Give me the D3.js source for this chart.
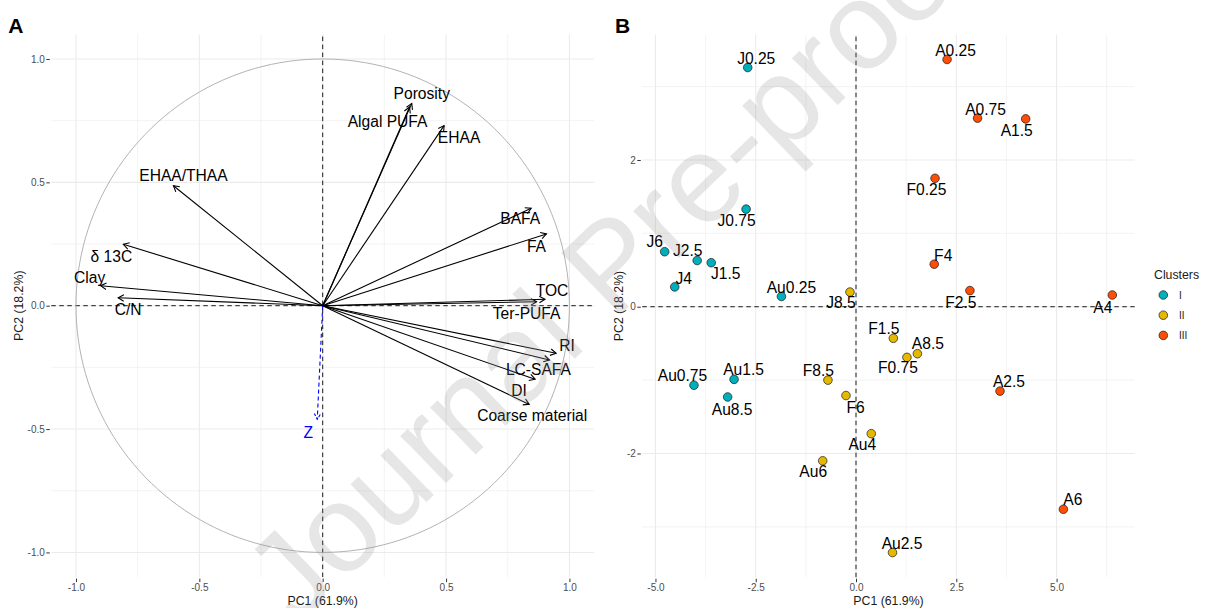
<!DOCTYPE html>
<html>
<head>
<meta charset="utf-8">
<script src="https://cdn.jsdelivr.net/npm/d3@7/dist/d3.min.js"></script>
<style>
  html, body { margin: 0; padding: 0; background: #ffffff; }
  svg { display: block; }
  text { font-family: "Liberation Sans", Arial, Helvetica, sans-serif; }
</style>
</head>
<body>
<svg id="chart" width="1205" height="608"></svg>
<script>
// ---------- Panel A: variable loadings on PC1 / PC2 ----------
const varNames = ["Porosity", "Algal PUFA", "EHAA", "EHAA/THAA", "BAFA", "FA", "δ 13C", "Clay", "C/N",
                  "TOC", "Ter-PUFA", "RI", "LC-SAFA", "DI", "Coarse material"];
const varPC1 = [0.361, 0.352, 0.492, -0.605, 0.845, 0.907, -0.808, -0.900, -0.829,
                0.901, 0.867, 0.946, 0.919, 0.861, 0.837];
const varPC2 = [0.820, 0.805, 0.730, 0.486, 0.395, 0.291, 0.249, 0.081, 0.032,
                0.026, 0.016, -0.193, -0.220, -0.298, -0.400];
// supplementary variable
const suppNames = ["Z"];
const suppPC1 = [-0.022];
const suppPC2 = [-0.460];

// ---------- Panel B: individual samples ----------
const sampleNames = ["J0.25", "A0.25", "A0.75", "A1.5", "F0.25", "J0.75", "J6", "J2.5", "J1.5", "F4",
                     "J4", "Au0.25", "J8.5", "F2.5", "A4", "F1.5", "A8.5", "F0.75", "Au0.75", "Au1.5",
                     "Au8.5", "F8.5", "F6", "A2.5", "Au4", "Au6", "A6", "Au2.5"];
const samplePC1 = [-2.70, 2.27, 3.03, 4.23, 1.97, -2.74, -4.77, -3.96, -3.61, 1.95,
                   -4.52, -1.86, -0.15, 2.84, 6.39, 0.93, 1.53, 1.27, -4.04, -3.04,
                   -3.20, -0.70, -0.25, 3.59, 0.38, -0.83, 5.17, 0.91];
const samplePC2 = [3.26, 3.37, 2.57, 2.56, 1.75, 1.33, 0.75, 0.63, 0.60, 0.58,
                   0.27, 0.14, 0.20, 0.22, 0.16, -0.43, -0.64, -0.69, -1.07, -0.99,
                   -1.23, -1.00, -1.21, -1.15, -1.73, -2.10, -2.76, -3.35];
const sampleCluster = ["I", "III", "III", "III", "III", "I", "I", "I", "I", "III",
                       "I", "I", "II", "III", "III", "II", "II", "II", "I", "I",
                       "I", "II", "II", "III", "II", "II", "III", "II"];
const clusterLevels = ["I", "II", "III"];
const clusterColors = ["#00AFBB", "#E7B800", "#FC4E07"];

// ---------- tick labels ----------
const ticksA = [-1.0, -0.5, 0.0, 0.5, 1.0];
const ticksBx = [-5.0, -2.5, 0.0, 2.5, 5.0];
const ticksBy = [-2, 0, 2];
const titleX = "PC1 (61.9%)";
const titleY = "PC2 (18.2%)";

// ---------- layout: label nudges (px) relative to arrow tip / point ----------
const varLabelNudge = {
  "Porosity": [10, -10], "Algal PUFA": [-22, 14], "EHAA": [15, 12], "EHAA/THAA": [10, -10],
  "BAFA": [-11, 10], "FA": [-10, 12], "δ 13C": [-12, 12], "Clay": [-11, -8], "C/N": [10, 12],
  "TOC": [7, -9], "Ter-PUFA": [-10, 12], "RI": [11, -8], "LC-SAFA": [-11, 9], "DI": [-16, 11],
  "Coarse material": [3, 11], "Z": [-9, 13]
};
const sampleLabelNudge = {
  "J0.25": [8.5, -9], "A0.25": [8.5, -9], "A0.75": [8, -9], "A1.5": [-9, 11], "F0.25": [-8.5, 11],
  "J0.75": [-9.5, 11], "J6": [-10, -10], "J2.5": [-9.5, -10], "J1.5": [14.5, 11], "F4": [9, -9],
  "J4": [9, -9], "Au0.25": [10, -9.5], "J8.5": [-9, 10.5], "F2.5": [-9, 11.5], "A4": [-9.5, 12],
  "F1.5": [-9.5, -10], "A8.5": [10.5, -10], "F0.75": [-9, 10.5], "Au0.75": [-11.5, -9.5],
  "Au1.5": [9.5, -10], "Au8.5": [4.5, 12], "F8.5": [-9.5, -10], "F6": [9.5, 11.5], "A2.5": [9, -10],
  "Au4": [-9, 10.5], "Au6": [-9.5, 11], "A6": [9.5, -9.5], "Au2.5": [9.5, -9.5]
};

const svg = d3.select("#chart");
svg.append("rect").attr("width", 1205).attr("height", 608).attr("fill", "#ffffff");

const gridCol = "#ebebeb";
const fmt1 = v => d3.format(".1f")(v).replace("\u2212", "-");
const fmt0 = v => d3.format("d")(v).replace("\u2212", "-");

function minorBreaks(major, domain) {
  const step = major[1] - major[0];
  const out = [];
  for (let v = major[0] - step / 2; v <= major[major.length - 1] + step / 2 + 1e-9; v += step) {
    if (v >= domain[0] && v <= domain[1]) out.push(v);
  }
  return out;
}

function drawPanel(g, x, y, xt, yt, xfmt, yfmt, yTitleGap) {
  const [x0, x1] = x.range();
  const [y0, y1] = y.range();
  const grid = g.append("g");
  // minor grid
  minorBreaks(xt, x.domain()).forEach(v => grid.append("line")
    .attr("x1", x(v)).attr("x2", x(v)).attr("y1", y0).attr("y2", y1)
    .attr("stroke", gridCol).attr("stroke-width", 0.6));
  minorBreaks(yt, y.domain()).forEach(v => grid.append("line")
    .attr("x1", x0).attr("x2", x1).attr("y1", y(v)).attr("y2", y(v))
    .attr("stroke", gridCol).attr("stroke-width", 0.6));
  // major grid
  xt.forEach(v => grid.append("line")
    .attr("x1", x(v)).attr("x2", x(v)).attr("y1", y0).attr("y2", y1)
    .attr("stroke", gridCol).attr("stroke-width", 1.1));
  yt.forEach(v => grid.append("line")
    .attr("x1", x0).attr("x2", x1).attr("y1", y(v)).attr("y2", y(v))
    .attr("stroke", gridCol).attr("stroke-width", 1.1));

  // axes
  const ax = g.append("g").attr("transform", `translate(0,${y0 + 1.5})`)
    .call(d3.axisBottom(x).tickValues(xt).tickSize(3.5).tickPadding(1.5).tickFormat(xfmt));
  const ay = g.append("g").attr("transform", `translate(${x0 - 1.5},0)`)
    .call(d3.axisLeft(y).tickValues(yt).tickSize(3.5).tickPadding(1.5).tickFormat(yfmt));
  [ax, ay].forEach(a => {
    a.select(".domain").remove();
    a.selectAll(".tick line").attr("stroke", "#333333").attr("stroke-width", 1);
    a.selectAll(".tick text").attr("fill", "#4d4d4d").attr("font-size", 10)
      .attr("font-family", "Liberation Sans, Arial, sans-serif");
  });

  // axis titles
  g.append("text").attr("x", (x0 + x1) / 2).attr("y", 604.5).attr("text-anchor", "middle")
    .attr("font-size", 12.3).attr("fill", "#1a1a1a").text(titleX);
  g.append("text")
    .attr("transform", `translate(${x0 - yTitleGap},${(y0 + y1) / 2}) rotate(-90)`)
    .attr("text-anchor", "middle").attr("font-size", 12.3).attr("fill", "#1a1a1a").text(titleY);

  // reference lines through origin
  g.append("line").attr("x1", x0).attr("x2", x1).attr("y1", y(0)).attr("y2", y(0))
    .attr("stroke", "#1a1a1a").attr("stroke-width", 1).attr("stroke-dasharray", "4.5,3.5");
  g.append("line").attr("x1", x(0)).attr("x2", x(0)).attr("y1", y0).attr("y2", y1)
    .attr("stroke", "#1a1a1a").attr("stroke-width", 1).attr("stroke-dasharray", "4.5,3.5");
}

function arrow(g, x, y, px, py, color, dashed) {
  const xs = x(0), ys = y(0), xe = x(px), ye = y(py);
  g.append("line").attr("x1", xs).attr("y1", ys).attr("x2", xe).attr("y2", ye)
    .attr("stroke", color).attr("stroke-width", 1.1)
    .attr("stroke-dasharray", dashed ? "4,3" : null);
  const ang = Math.atan2(ye - ys, xe - xs);
  const len = 6.5, spread = Math.PI / 6;
  const p1 = [xe - len * Math.cos(ang - spread), ye - len * Math.sin(ang - spread)];
  const p2 = [xe - len * Math.cos(ang + spread), ye - len * Math.sin(ang + spread)];
  g.append("path").attr("d", `M${p1[0]},${p1[1]}L${xe},${ye}L${p2[0]},${p2[1]}`)
    .attr("fill", "none").attr("stroke", color).attr("stroke-width", 1.1)
    .attr("stroke-dasharray", dashed ? "3,1.5" : null);
}

// ---------- Panel A ----------
const gA = svg.append("g");
const xA = d3.scaleLinear().domain([-1.1, 1.1]).range([51.3, 594.1]);
const yA = d3.scaleLinear().domain([-1.1, 1.1]).range([577.1, 34.3]);
drawPanel(gA, xA, yA, ticksA, ticksA, fmt1, fmt1, 28);

// correlation circle
const circ = d3.range(0, 361, 2).map(a => [Math.cos(a * Math.PI / 180), Math.sin(a * Math.PI / 180)]);
gA.append("path")
  .attr("d", d3.line().x(d => xA(d[0])).y(d => yA(d[1]))(circ))
  .attr("fill", "none").attr("stroke", "#b3b3b3").attr("stroke-width", 1);

varNames.forEach((n, i) => arrow(gA, xA, yA, varPC1[i], varPC2[i], "#000000", false));
suppNames.forEach((n, i) => arrow(gA, xA, yA, suppPC1[i], suppPC2[i], "#0000ff", true));

varNames.forEach((n, i) => {
  const nd = varLabelNudge[n];
  gA.append("text").attr("x", xA(varPC1[i]) + nd[0]).attr("y", yA(varPC2[i]) + nd[1])
    .attr("dy", "0.36em").attr("text-anchor", "middle").attr("font-size", 15.6)
    .attr("fill", "#000000").text(n);
});
suppNames.forEach((n, i) => {
  const nd = varLabelNudge[n];
  gA.append("text").attr("x", xA(suppPC1[i]) + nd[0]).attr("y", yA(suppPC2[i]) + nd[1])
    .attr("dy", "0.36em").attr("text-anchor", "middle").attr("font-size", 15.6)
    .attr("fill", "#0000ff").text(n);
});

// ---------- Panel B ----------
const gB = svg.append("g");
function expand(vals) {
  const [lo, hi] = d3.extent(vals);
  const pad = (hi - lo) * 0.05;
  return [lo - pad, hi + pad];
}
const xB = d3.scaleLinear().domain(expand(samplePC1)).range([642.3, 1134.7]);
const yB = d3.scaleLinear().domain(expand(samplePC2)).range([577.2, 34.8]);
drawPanel(gB, xB, yB, ticksBx, ticksBy, fmt1, fmt0, 19.5);

const color = d3.scaleOrdinal().domain(clusterLevels).range(clusterColors);
sampleNames.forEach((n, i) => {
  gB.append("circle").attr("cx", xB(samplePC1[i])).attr("cy", yB(samplePC2[i])).attr("r", 4.3)
    .attr("fill", color(sampleCluster[i])).attr("stroke", "#1a1a1a").attr("stroke-width", 0.7);
});
sampleNames.forEach((n, i) => {
  const nd = sampleLabelNudge[n];
  gB.append("text").attr("x", xB(samplePC1[i]) + nd[0]).attr("y", yB(samplePC2[i]) + nd[1])
    .attr("dy", "0.36em").attr("text-anchor", "middle").attr("font-size", 15.6)
    .attr("fill", "#000000").text(n);
});

// legend
const lg = svg.append("g").attr("transform", "translate(1154,0)");
lg.append("text").attr("x", 0).attr("y", 278.5).attr("font-size", 12.3).attr("fill", "#1a1a1a").text("Clusters");
clusterLevels.forEach((c, i) => {
  const yy = 295 + i * 20.2;
  lg.append("circle").attr("cx", 9.3).attr("cy", yy).attr("r", 4.3)
    .attr("fill", clusterColors[i]).attr("stroke", "#1a1a1a").attr("stroke-width", 0.7);
  lg.append("text").attr("x", 25).attr("y", yy).attr("dy", "0.36em").attr("font-size", 10)
    .attr("fill", "#1a1a1a").text(c);
});

// panel tags
svg.append("text").attr("x", 8.3).attr("y", 33.3).attr("font-size", 21).attr("font-weight", "bold").text("A");
svg.append("text").attr("x", 615).attr("y", 32.7).attr("font-size", 21).attr("font-weight", "bold").text("B");

// watermark
svg.append("text")
  .attr("transform", "translate(296,628) rotate(-44)")
  .attr("font-size", 124).attr("fill", "#8c8c8c").attr("fill-opacity", 0.22)
  .text("Journal Pre-proof");
</script>
</body>
</html>
